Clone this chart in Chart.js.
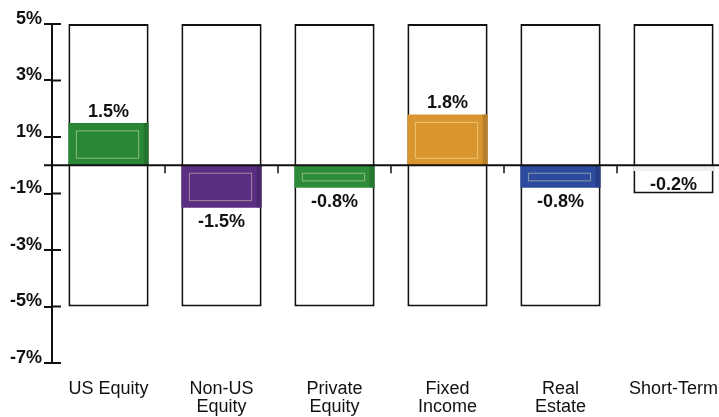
<!DOCTYPE html>
<html>
<head>
<meta charset="utf-8">
<script src="https://cdn.jsdelivr.net/npm/chart.js@4"></script>
<style>
  body { margin: 0; overflow: hidden; background: #fff; }
  #wrap { width: 730px; height: 417px; }
</style>
</head>
<body>
<div id="wrap"><canvas id="returnChart"></canvas></div>
<script>
// Data untuk chart
const categories = [
  "US Equity",
  ["Non-US", "Equity"],
  ["Private", "Equity"],
  ["Fixed", "Income"],
  ["Real", "Estate"],
  "Short-Term",
];
const returns = [1.5, -1.5, -0.8, 1.8, -0.8, -0.2];
const rangeLow = [-5, -5, -5, -5, -5, -1];
const rangeHigh = [5, 5, 5, 5, 5, 5];
const yTicks = [5, 3, 1, -1, -3, -5, -7];

// Warna batang
const barColors = ["#2a8736", "#5a2e82", "#2e8c39", "#d9962f", "#2d4b9e", "#eef2ee"];

const FONT = "'Liberation Sans', Arial, sans-serif";

// Plugin: garis nol, tanda kecil, label nilai
const decorPlugin = {
  id: "decor",
  afterDatasetsDraw(chart) {
    const ctx = chart.ctx;
    const x = chart.scales.x;
    const y = chart.scales.y;
    const area = chart.chartArea;
    const zeroY = y.getPixelForValue(0);

    ctx.save();
    ctx.strokeStyle = "#111";

    // sisi kanan tanda sumbu y
    ctx.lineWidth = 2;
    yTicks.forEach((t) => {
      const py = y.getPixelForValue(t);
      ctx.beginPath();
      ctx.moveTo(area.left, py);
      ctx.lineTo(area.left + 9, py);
      ctx.stroke();
    });

    // garis nol
    ctx.beginPath();
    ctx.moveTo(area.left - 8, zeroY);
    ctx.lineTo(chart.width, zeroY);
    ctx.stroke();

    // tanda kecil di antara kategori
    ctx.lineWidth = 1.5;
    for (let i = 1; i < categories.length; i++) {
      const px = (x.getPixelForValue(i - 1) + x.getPixelForValue(i)) / 2;
      ctx.beginPath();
      ctx.moveTo(px, zeroY);
      ctx.lineTo(px, zeroY + 8);
      ctx.stroke();
    }

    // efek bevel pada batang berwarna
    const meta = chart.getDatasetMeta(1);
    meta.data.forEach((bar) => {
      const top = Math.min(bar.y, bar.base);
      const bottom = Math.max(bar.y, bar.base);
      if (bottom - top < 14) return;
      const left = bar.x - bar.width / 2;
      const right = bar.x + bar.width / 2;
      ctx.strokeStyle = "rgba(255,255,190,0.45)";
      ctx.lineWidth = 1;
      ctx.strokeRect(left + 8, top + 8, right - left - 18, bottom - top - 15);
      ctx.fillStyle = "rgba(0,0,0,0.15)";
      ctx.fillRect(right - 5, top, 5, bottom - top);
    });

    // label nilai
    ctx.fillStyle = "#111";
    ctx.font = "bold 18px " + FONT;
    ctx.textAlign = "center";
    meta.data.forEach((bar, i) => {
      const v = returns[i];
      const txt = v.toFixed(1) + "%";
      if (v >= 0) {
        ctx.textBaseline = "bottom";
        ctx.fillText(txt, bar.x, bar.y - 2);
      } else {
        ctx.textBaseline = "top";
        ctx.fillText(txt, bar.x, bar.y + 5);
      }
    });
    ctx.restore();
  },
};

function buatChart() {
  const ctx = document.getElementById("returnChart").getContext("2d");
  new Chart(ctx, {
    type: "bar",
    data: {
      labels: categories,
      datasets: [
        {
          label: "Range",
          data: rangeLow.map((lo, i) => [lo, rangeHigh[i]]),
          backgroundColor: "#ffffff",
          borderColor: "#111",
          borderWidth: 2,
          borderSkipped: false,
          order: 2,
        },
        {
          label: "Return",
          data: returns,
          backgroundColor: barColors,
          borderWidth: 0,
          order: 1,
        },
      ],
    },
    options: {
      responsive: true,
      maintainAspectRatio: false,
      animation: false,
      grouped: false,
      barPercentage: 0.71,
      categoryPercentage: 1,
      layout: { padding: { top: 24, left: 0, right: 0, bottom: 0 } },
      plugins: {
        legend: { display: false },
        tooltip: { enabled: false },
      },
      scales: {
        x: {
          grid: { display: false, drawTicks: false },
          border: { display: false },
          ticks: {
            color: "#111",
            padding: 17,
            maxRotation: 0,
            autoSkip: false,
            font: { family: FONT, size: 18, lineHeight: 1.0 },
          },
          afterFit(scale) {
            scale.height = 54;
            scale.paddingLeft = 0;
            scale.paddingRight = 0;
          },
        },
        y: {
          min: -7,
          max: 5,
          afterBuildTicks(scale) {
            scale.ticks = yTicks.map((v) => ({ value: v }));
          },
          grid: {
            drawOnChartArea: false,
            drawTicks: true,
            tickLength: 8,
            tickColor: "#111",
            lineWidth: 2,
          },
          border: { display: true, color: "#111", width: 2 },
          ticks: {
            color: "#111",
            padding: 2,
            labelOffset: -5,
            font: { family: FONT, size: 18, weight: "bold" },
            callback: (v) => v + "%",
          },
          afterFit(scale) {
            scale.width = 52;
          },
        },
      },
    },
    plugins: [decorPlugin],
  });
}

document.addEventListener("DOMContentLoaded", function () {
  buatChart();
});
</script>
</body>
</html>
